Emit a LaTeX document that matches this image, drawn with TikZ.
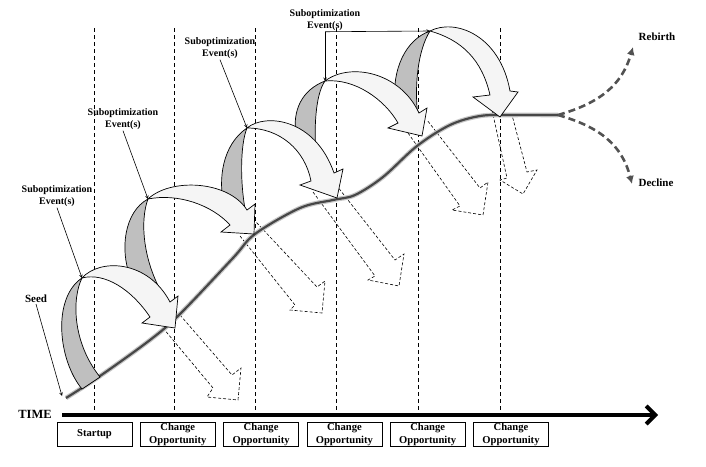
\documentclass[tikz,border=0pt]{standalone}
\usepackage{fontspec}
\setmainfont{Liberation Serif}
\usepackage{tikz}
\usetikzlibrary{positioning, arrows, arrows.meta}
\tikzstyle{phase} = [rectangle, draw=black, line width=0.8pt, minimum width=75pt, minimum height=24pt, inner sep=0pt, text centered, align=center, font=\fontsize{10.6}{13}\selectfont\bfseries]
\tikzstyle{sublabel} = [align=center, inner sep=1pt, font=\fontsize{10}{12}\selectfont\bfseries]
\tikzstyle{bigtext} = [inner sep=1pt, font=\fontsize{11}{13}\selectfont\bfseries]
\tikzstyle{pointer} = [line width=0.6pt, ->, >=stealth]
\tikzstyle{period} = [line width=0.8pt, dash pattern=on 4pt off 3pt]
\tikzstyle{ribbon_back} = [draw=black, line width=0.7pt, fill=black!25]
\tikzstyle{ribbon_front} = [draw=black, line width=0.7pt, fill=black!4]
\tikzstyle{shadow_arrow} = [draw=black, line width=0.6pt, dash pattern=on 3pt off 2pt]
\tikzstyle{growth_glow} = [line width=4.6pt, black!22]
\tikzstyle{growth} = [line width=2.2pt, black!72]
\tikzstyle{future} = [line width=2.6pt, black!68, dash pattern=on 7pt off 4pt, -{Latex[length=8pt,width=8pt]}]
\tikzstyle{timeline} = [line width=4pt, -{Straight Barb[length=9pt,width=18pt]}]

\begin{document}
\begin{tikzpicture}[x=1pt, y=-1pt]
\useasboundingbox (0,0) rectangle (706,466);

\draw[period] (94,28) -- (94,412);
\draw[period] (174,28) -- (174,412);
\draw[period] (255,28) -- (255,412);
\draw[period] (336,28) -- (336,412);
\draw[period] (418,28) -- (418,412);
\draw[period] (500,28) -- (500,412);

\draw[shadow_arrow] (163,328) -- (213,388) -- (207,397) -- (238,400) -- (241,368) -- (232,375) -- (180,315);
\draw[shadow_arrow] (240,236) -- (295,305) -- (290,310) -- (322,313) -- (325,281) -- (317,287) -- (256,222);
\draw[shadow_arrow] (313,192) -- (375,276) -- (368,280) -- (399,286) -- (404,254) -- (395,260) -- (337,186);
\draw[shadow_arrow] (408,133) -- (460,206) -- (452,210) -- (483,215) -- (488,182) -- (480,188) -- (427,120);
\draw[shadow_arrow] (492,110) -- (507,178) -- (500,180) -- (523,194) -- (537,170) -- (527,172) -- (512,115);

\coordinate (seedpt) at (62,396);
\coordinate (fork) at (558,115);
\coordinate (up_end) at (633,47);
\coordinate (down_end) at (632,184);

\draw[growth_glow] plot[smooth, tension=0.55] coordinates {(66,398) (100,376) (150,340) (180,314) (233,258) (255,234) (300,208) (333,200) (355,195) (383,177) (417,146) (450,125) (480,116) (510,115) (558,115)};
\draw[growth] plot[smooth, tension=0.55] coordinates {(66,398) (100,376) (150,340) (180,314) (233,258) (255,234) (300,208) (333,200) (355,195) (383,177) (417,146) (450,125) (480,116) (510,115) (558,115)};

\draw[future] (fork) .. controls (600,103) and (622,85) .. (up_end);
\draw[future] (fork) .. controls (600,127) and (622,145) .. (down_end);

\coordinate (t1) at (82,278);
\coordinate (t2) at (148,199);
\coordinate (t3) at (247,128);
\coordinate (t4) at (325,81);
\coordinate (t5) at (430,31);

\draw[ribbon_back] (395,102) .. controls (392,70) and (405,40) .. (t5) .. controls (418,50) and (414,85) .. (418,118) -- cycle;
\draw[ribbon_front] (t5) .. controls (455,18) and (500,35) .. (510,91) -- (518,92) -- (500,117) -- (473,97) -- (490,95) .. controls (482,60) and (462,40) .. (t5) -- cycle;

\draw[ribbon_back] (296,136) .. controls (292,110) and (302,90) .. (t4) .. controls (315,95) and (314,130) .. (316,158) -- cycle;
\draw[ribbon_front] (t4) .. controls (350,62) and (400,72) .. (419,113) -- (427,108) -- (422,136) -- (388,128) -- (398,123) .. controls (385,100) and (355,78) .. (t4) -- cycle;

\draw[ribbon_back] (224,205) .. controls (218,180) and (222,145) .. (t3) .. controls (240,145) and (240,185) .. (246,214) -- cycle;
\draw[ribbon_front] (t3) .. controls (265,113) and (315,118) .. (334,173) -- (343,169) -- (337,198) -- (300,185) -- (311,181) .. controls (305,150) and (280,128) .. (t3) -- cycle;

\draw[ribbon_back] (130,276) .. controls (120,250) and (124,212) .. (t2) .. controls (140,220) and (142,262) .. (166,300) -- cycle;
\draw[ribbon_front] (t2) .. controls (170,178) and (228,180) .. (247,210) -- (255,204) -- (254,234) -- (221,232) -- (230,225) .. controls (212,205) and (178,193) .. (t2) -- cycle;

\draw[ribbon_back] (82,389) .. controls (58,360) and (52,298) .. (t1) .. controls (72,298) and (72,342) .. (100,377) -- cycle;
\draw[ribbon_front] (t1) .. controls (100,258) and (148,260) .. (170,302) -- (178,296) -- (175,328) -- (142,323) -- (150,317) .. controls (132,290) and (105,272) .. (t1) -- cycle;

\node (sub1) [sublabel] at (57,196) {Suboptimization\\Event(s)};
\node (sub2) [sublabel] at (123,119) {Suboptimization\\Event(s)};
\node (sub3) [sublabel] at (220,48) {Suboptimization\\Event(s)};
\node (sub4) [sublabel] at (325,20) {Suboptimization\\Event(s)};
\node (seed) [bigtext] at (36,299) {Seed};
\node (rebirth) [bigtext] at (657,37) {Rebirth};
\node (decline) [bigtext] at (656,183) {Decline};

\draw[pointer] (sub1.south) -- (t1);
\draw[pointer] (sub2.south) -- (t2);
\draw[pointer] (sub3.south) -- (t3);
\draw[pointer] (sub4.south) -- (t4);
\draw[pointer] (sub4.south) -- (t5);
\draw[pointer] (seed.south) -- (seedpt);

\node (time) [inner sep=1pt, font=\fontsize{12.5}{14}\selectfont\bfseries] at (35,414) {TIME};
\coordinate (axis_start) at (62,415);
\coordinate (axis_end) at (658,415);
\draw[timeline] (axis_start) -- (axis_end);

\node (startup) [phase] at (94.5,434) {Startup};
\node (chg1) [phase, right=7.5pt of startup] {Change\\Opportunity};
\node (chg2) [phase, right=7.5pt of chg1] {Change\\Opportunity};
\node (chg3) [phase, right=7.5pt of chg2] {Change\\Opportunity};
\node (chg4) [phase, right=7.5pt of chg3] {Change\\Opportunity};
\node (chg5) [phase, right=7.5pt of chg4] {Change\\Opportunity};

\end{tikzpicture}
\end{document}
